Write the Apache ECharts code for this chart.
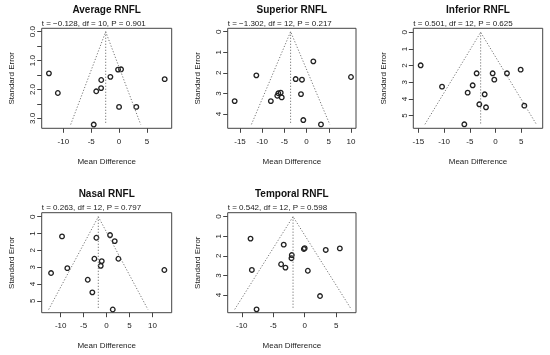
<!DOCTYPE html>
<html>
<head>
<meta charset="utf-8">
<script src="https://cdn.jsdelivr.net/npm/echarts@6/dist/echarts.min.js"></script>
<style>
html,body{margin:0;padding:0;background:#fff;}
#c{width:550px;height:355px;}
</style>
</head>
<body>
<div id="c"></div>
<script>
// ---- data ----
const panelTitles = ["Average RNFL", "Superior RNFL", "Inferior RNFL", "Nasal RNFL", "Temporal RNFL"];
const panelStats = [
  "t = \u22120.128, df = 10, P = 0.901",
  "t = \u22121.302, df = 12, P = 0.217",
  "t = 0.501, df = 12, P = 0.625",
  "t = 0.263, df = 12, P = 0.797",
  "t = 0.542, df = 12, P = 0.598"
];
const averageMD = [-12.6, -11.0, -3.2, -1.56, -0.18, 0.36, 8.2, -3.23, -4.1, 0.0, 3.1, -4.55];
const averageSE = [1.44, 2.12, 1.67, 1.56, 1.31, 1.30, 1.64, 1.95, 2.06, 2.6, 2.6, 3.21];
const superiorMD = [-16.2, -11.32, -8.05, -6.37, -5.83, -6.6, -5.6, -2.46, -1.04, -1.26, 1.52, 10.0, -0.74, 3.24];
const superiorSE = [3.37, 2.12, 3.37, 2.99, 2.96, 3.11, 3.19, 2.30, 2.33, 3.03, 1.44, 2.2, 4.29, 4.5];
const inferiorMD = [-14.55, -10.4, -3.68, -4.45, -5.42, -2.12, -3.16, -1.86, -6.07, -0.57, -0.25, 2.21, 4.87, 5.58];
const inferiorSE = [1.98, 3.26, 2.46, 3.18, 3.62, 3.72, 4.32, 4.5, 5.52, 2.46, 2.84, 2.46, 2.24, 4.4];
const nasalMD = [-9.71, -2.22, 0.76, 1.78, -2.65, -1.05, -1.27, 2.58, -8.55, -12.1, 12.6, -4.1, -3.1, 1.35];
const nasalSE = [1.17, 1.25, 1.09, 1.45, 2.5, 2.64, 2.92, 2.5, 3.06, 3.35, 3.17, 3.75, 4.5, 5.52];
const temporalMD = [-8.61, -3.33, -8.4, -3.75, -3.06, -2.05, -2.1, -0.13, 0.0, 3.35, 5.59, 0.5, 2.44, -7.65];
const temporalSE = [1.12, 1.43, 2.72, 2.43, 2.6, 1.96, 2.12, 1.65, 1.61, 1.70, 1.62, 2.76, 4.05, 4.73];
const pooledMD = [-2.4, -3.6, -2.9, -1.8, -1.85];
const xTickValues = [
  [-10, -5, 0, 5],
  [-15, -10, -5, 0, 5, 10],
  [-15, -10, -5, 0, 5],
  [-10, -5, 0, 5, 10],
  [-10, -5, 0, 5]
];
const yTickValues = [
  [0, 0.5, 1, 1.5, 2, 2.5, 3],
  [0, 1, 2, 3, 4],
  [0, 1, 2, 3, 4, 5],
  [0, 1, 2, 3, 4, 5],
  [0, 1, 2, 3, 4]
];
const yLabelValues = [
  [0, 1, 2, 3],
  [0, 1, 2, 3, 4],
  [0, 1, 2, 3, 4, 5],
  [0, 1, 2, 3, 4, 5],
  [0, 1, 2, 3, 4]
];
const yLabelDecimals = [1, 0, 0, 0, 0];

// ---- layout ----
const grids = [
  {left: 41.7, top: 28.3, width: 130, height: 100},
  {left: 227.7, top: 28.3, width: 128.3, height: 100},
  {left: 413.3, top: 28.3, width: 129.4, height: 100},
  {left: 41.7, top: 212.7, width: 130, height: 100},
  {left: 227.7, top: 212.7, width: 128.3, height: 100}
];
const xRanges = [[-13.9, 9.46], [-17.77, 11.13], [-15.98, 9.15], [-14.14, 14.2], [-12.24, 8.16]];
const yRanges = [[-0.118, 3.34], [-0.165, 4.69], [-0.24, 5.76], [-0.24, 5.71], [-0.2, 4.9]];

const mdSets = [averageMD, superiorMD, inferiorMD, nasalMD, temporalMD];
const seSets = [averageSE, superiorSE, inferiorSE, nasalSE, temporalSE];

const FONT = "Liberation Sans, Arial, sans-serif";
const TXT = "#222";
const BOX = "#444";

const option = {
  animation: false,
  backgroundColor: "#fff",
  grid: [], xAxis: [], yAxis: [], series: [], graphic: []
};

for (let i = 0; i < 5; i++) {
  const g = grids[i];
  option.grid.push({left: g.left, top: g.top, width: g.width, height: g.height,
    show: true, borderColor: BOX, borderWidth: 1, backgroundColor: "transparent", containLabel: false});
  option.xAxis.push({
    type: "value", gridIndex: i, min: xRanges[i][0], max: xRanges[i][1], position: "bottom",
    splitLine: {show: false},
    axisLine: {show: false, onZero: false},
    axisTick: {show: true, length: 4.5, inside: false, lineStyle: {color: BOX, width: 1}, customValues: xTickValues[i]},
    axisLabel: {show: true, fontSize: 8, fontFamily: FONT, color: TXT, margin: 9,
      customValues: xTickValues[i], formatter: v => String(v)},
    name: "Mean Difference", nameLocation: "middle", nameGap: 29,
    nameTextStyle: {fontSize: 8, fontFamily: FONT, color: TXT}
  });
  const dec = yLabelDecimals[i];
  option.yAxis.push({
    type: "value", gridIndex: i, inverse: true, min: yRanges[i][0], max: yRanges[i][1], position: "left",
    splitLine: {show: false},
    axisLine: {show: false, onZero: false},
    axisTick: {show: true, length: 4.5, inside: false, lineStyle: {color: BOX, width: 1}, customValues: yTickValues[i]},
    axisLabel: {show: true, fontSize: 8, fontFamily: FONT, color: TXT, margin: 5, rotate: 90,
      customValues: yLabelValues[i], formatter: v => Number(v).toFixed(dec)},
    name: "Standard Error", nameLocation: "middle", nameGap: 26, nameRotate: 90,
    nameTextStyle: {fontSize: 8, fontFamily: FONT, color: TXT}
  });

  const se = seSets[i], md = mdSets[i];
  const maxSE = Math.max(...se);
  const c = pooledMD[i];
  // funnel (pseudo 95% CI) lines
  option.series.push({
    type: "line", xAxisIndex: i, yAxisIndex: i, symbol: "none", silent: true,
    data: [[c - 1.96 * maxSE, maxSE], [c, 0], [c + 1.96 * maxSE, maxSE]],
    lineStyle: {color: "#777", width: 1, type: [1.2, 1.8]}
  });
  option.series.push({
    type: "line", xAxisIndex: i, yAxisIndex: i, symbol: "none", silent: true,
    data: [[c, 0], [c, maxSE]],
    lineStyle: {color: "#777", width: 1, type: [1.2, 1.8]}
  });
  option.series.push({
    type: "scatter", xAxisIndex: i, yAxisIndex: i,
    symbol: "circle", symbolSize: 4.6,
    itemStyle: {color: "rgba(255,255,255,0)", borderColor: "#222", borderWidth: 1.3, opacity: 1},
    data: md.map((v, k) => [v, se[k]])
  });

  option.graphic.push({
    type: "text", x: g.left + g.width / 2, y: g.top - 18.3,
    style: {text: panelTitles[i], font: "bold 10px " + FONT, fill: "#111", align: "center", verticalAlign: "middle"}
  });
  option.graphic.push({
    type: "text", x: g.left, y: g.top - 4.5,
    style: {text: panelStats[i], font: "8px " + FONT, fill: TXT, align: "left", verticalAlign: "middle"}
  });
}

const chart = echarts.init(document.getElementById("c"), null, {renderer: "canvas"});
chart.setOption(option);
</script>
</body>
</html>
